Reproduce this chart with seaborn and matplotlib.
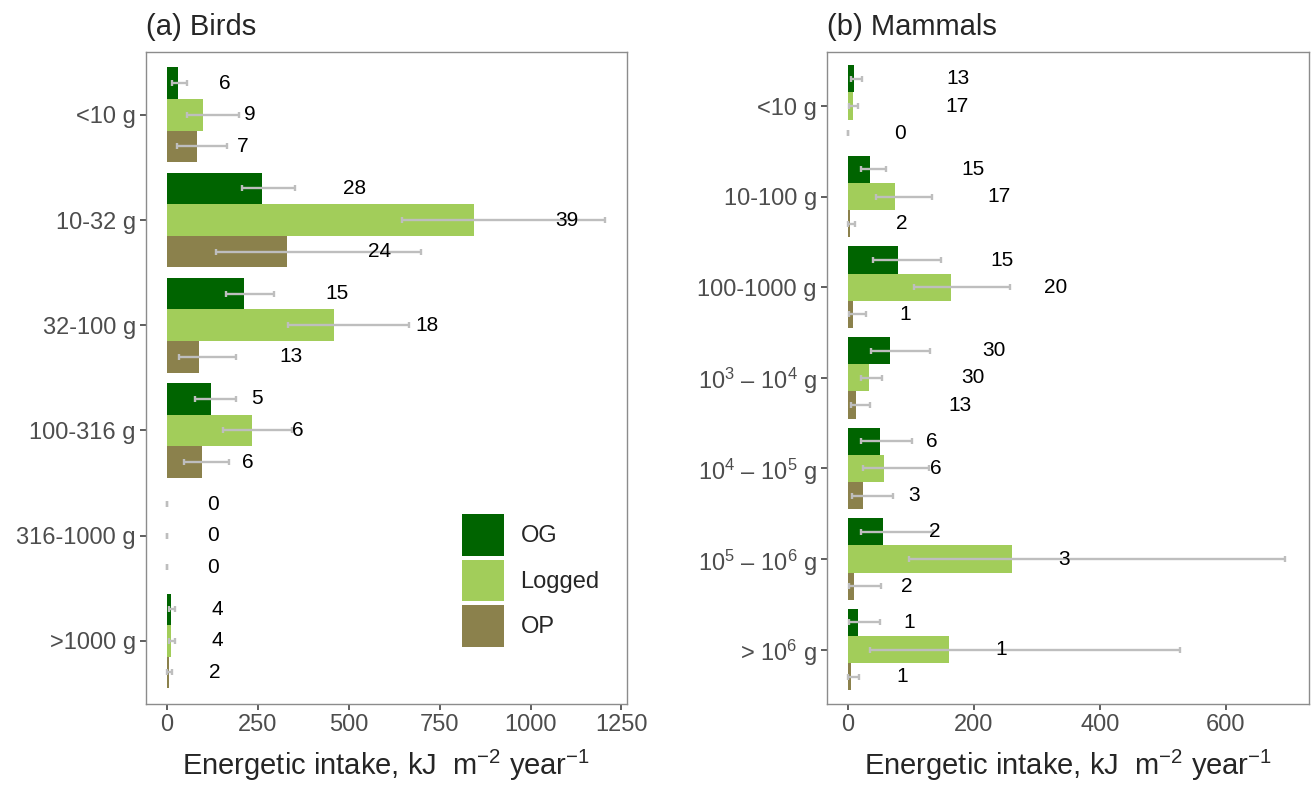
import matplotlib
matplotlib.use("Agg")
import matplotlib.pyplot as plt
import pandas as pd
import seaborn as sns

habitats = ["OG", "Logged", "OP"]
habitat_colors = ["#006400", "#A2CD5A", "#8B814C"]

# birds, body-mass classes top to bottom
bird_classes = ["<10 g", "10-32 g", "32-100 g", "100-316 g", "316-1000 g", ">1000 g"]
bird_mean = {
    "OG": [32, 263, 213, 122, 0, 11],
    "Logged": [100, 845, 461, 233, 0, 13],
    "OP": [83, 330, 88, 97, 0, 5],
}
bird_low = {
    "OG": [15, 206, 162, 79, 0, 5],
    "Logged": [55, 647, 334, 155, 0, 5],
    "OP": [29, 135, 34, 48, 0, 2],
}
bird_high = {
    "OG": [55, 353, 296, 190, 0, 23],
    "Logged": [198, 1205, 665, 343, 0, 24],
    "OP": [166, 699, 190, 171, 0, 15],
}
bird_n = {
    "OG": [6, 28, 15, 5, 0, 4],
    "Logged": [9, 39, 18, 6, 0, 4],
    "OP": [7, 24, 13, 6, 0, 2],
}

# mammals
mammal_classes = [
    "<10 g", "10-100 g", "100-1000 g",
    r"$\mathregular{10^3}$ – $\mathregular{10^4}$ g",
    r"$\mathregular{10^4}$ – $\mathregular{10^5}$ g",
    r"$\mathregular{10^5}$ – $\mathregular{10^6}$ g",
    r"> $\mathregular{10^6}$ g",
]
mammal_mean = {
    "OG": [10, 34, 79, 67, 50, 55, 15],
    "Logged": [7.5, 75, 164, 33, 57, 260, 160],
    "OP": [0, 3, 7.5, 12, 23, 10, 4],
}
mammal_low = {
    "OG": [5, 20, 40, 36, 21, 20, 2],
    "Logged": [2, 44, 104, 20, 24, 97, 34],
    "OP": [0, 0, 1, 5, 6, 1, 0],
}
mammal_high = {
    "OG": [22, 60, 148, 130, 101, 135, 51],
    "Logged": [16, 133, 258, 54, 129, 695, 527],
    "OP": [0, 11, 28, 34, 71, 52, 18],
}
mammal_n = {
    "OG": [13, 15, 15, 30, 6, 2, 1],
    "Logged": [17, 17, 20, 30, 6, 3, 1],
    "OP": [0, 2, 1, 13, 3, 2, 1],
}

sns.set_style("white")
plt.rcParams["font.family"] = ["Liberation Sans", "DejaVu Sans"]
plt.rcParams["mathtext.fontset"] = "custom"
plt.rcParams["mathtext.rm"] = "Liberation Sans"
plt.rcParams["mathtext.it"] = "Liberation Sans:italic"


def draw_panel(ax, classes, mean, low, high, n, title, xlim, xticks, step, legend):
    rows = []
    for h in habitats:
        for c, v in zip(classes, mean[h]):
            rows.append({"size": c, "habitat": h, "intake": v})
    df = pd.DataFrame(rows)

    sns.barplot(data=df, x="intake", y="size", hue="habitat", order=classes,
                hue_order=habitats, palette=habitat_colors, orient="h",
                width=0.9, saturation=1, errorbar=None, legend=legend,
                linewidth=0, ax=ax)

    # error bars and sample sizes
    for cont, h in zip(ax.containers, habitats):
        for bar, v, lo, hi, k in zip(cont, mean[h], low[h], high[h], n[h]):
            yc = bar.get_y() + bar.get_height() / 2
            ax.errorbar(v, yc, xerr=[[v - lo], [hi - v]], fmt="none",
                        ecolor="#BEBEBE", elinewidth=1.7, capsize=2.4,
                        capthick=1.7, zorder=3)
            ax.text(v + step * len(str(k)), yc, str(k), ha="center",
                    va="center", fontsize=15, color="black", zorder=4)

    ax.set_xlim(*xlim)
    ax.set_ylim(len(classes) - 0.4, -0.6)
    ax.set_xticks(xticks)
    ax.set_ylabel("")
    ax.set_xlabel(r"Energetic intake, kJ  m$^{\mathregular{-2}}$ year$^{\mathregular{-1}}$",
                  fontsize=21, labelpad=9)
    ax.set_title(title, loc="left", fontsize=21, pad=12)
    ax.tick_params(axis="both", labelsize=17, labelcolor="#4D4D4D",
                   color="#333333", length=4, width=1.1, pad=3,
                   left=True, bottom=True)
    for sp in ax.spines.values():
        sp.set_color("#8C8C8C")
        sp.set_linewidth(1.0)


fig = plt.figure(figsize=(13.11, 7.88), dpi=100)
ax1 = fig.add_axes([0.1111, 0.1066, 0.3671, 0.8278])
ax2 = fig.add_axes([0.6306, 0.1066, 0.3677, 0.8278])

draw_panel(ax1, bird_classes, bird_mean, bird_low, bird_high, bird_n,
           "(a) Birds", (-58, 1265), [0, 250, 500, 750, 1000, 1250], 127, True)
draw_panel(ax2, mammal_classes, mammal_mean, mammal_low, mammal_high, mammal_n,
           "(b) Mammals", (-34, 732), [0, 200, 400, 600], 82.5, False)

handles, labels = ax1.get_legend_handles_labels()
ax1.legend(handles, labels, loc="upper left", bbox_to_anchor=(0.657, 0.291),
           frameon=False, fontsize=17, handlelength=1.78, handleheight=2.33,
           labelspacing=0.17, handletextpad=0.7, borderpad=0, borderaxespad=0)

fig.savefig("out.png", dpi=100)
